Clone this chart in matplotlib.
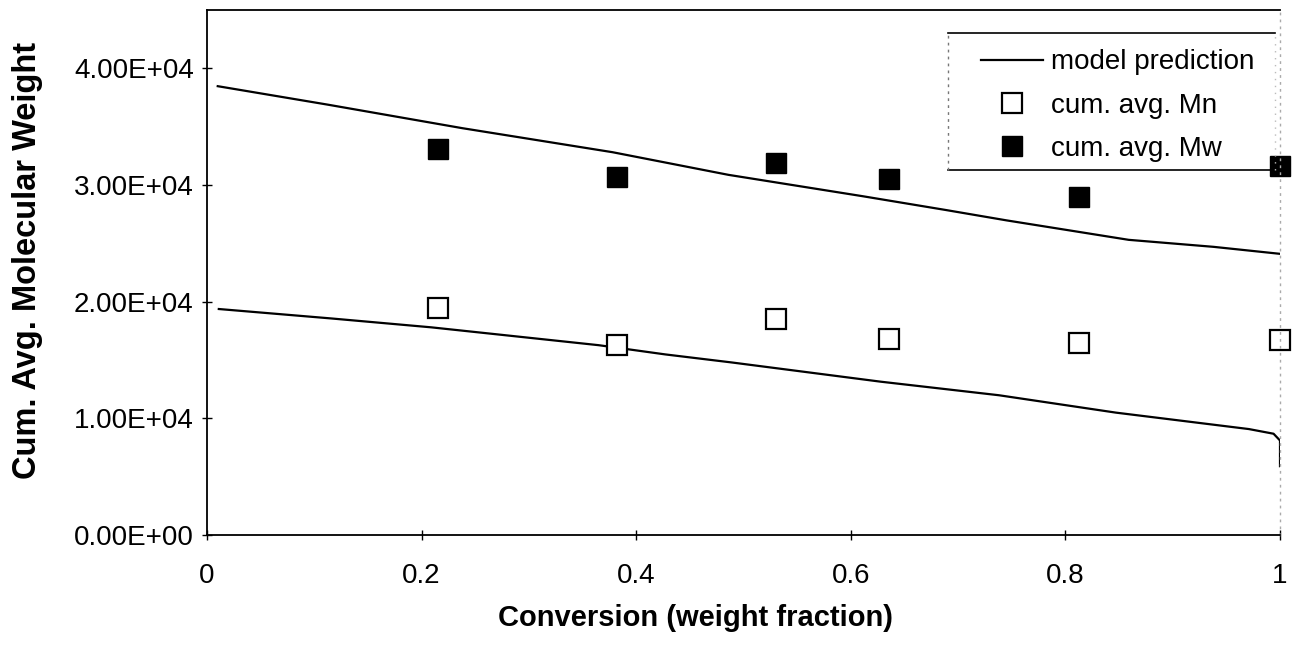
import matplotlib
matplotlib.use("Agg")
import matplotlib.pyplot as plt
from matplotlib.ticker import FuncFormatter, FixedLocator
from matplotlib.lines import Line2D

plt.rcParams['font.family'] = ['Liberation Sans', 'DejaVu Sans']

# ---- data ----
conv_samples = [0.215, 0.382, 0.530, 0.636, 0.813, 1.0]
mn_measured = [19500, 16300, 18500, 16800, 16500, 16700]
mw_measured = [33100, 30700, 31900, 30500, 29000, 31600]

model_mw_x = [0.010, 0.113, 0.238, 0.378, 0.486, 0.611, 0.689, 0.745, 0.859, 0.938, 1.0]
model_mw_y = [38470, 36880, 34870, 32810, 30870, 29040, 27850, 26970, 25300, 24700, 24100]

model_mn_x = [0.011, 0.116, 0.209, 0.365, 0.427, 0.489, 0.628, 0.738, 0.847, 0.971, 0.994, 1.0, 1.0]
model_mn_y = [19370, 18560, 17800, 16270, 15480, 14790, 13140, 11980, 10490, 9080, 8680, 8100, 5900]

x_ticks = [0, 0.2, 0.4, 0.6, 0.8, 1.0]
x_tick_labels = ['0', '0.2', '0.4', '0.6', '0.8', '1']
y_ticks = [0, 10000, 20000, 30000, 40000]

W, H = 1305, 651
fig = plt.figure(figsize=(W / 100, H / 100), dpi=100)
ax = fig.add_axes([207 / W, 1 - 535 / H, (1280 - 207) / W, (535 - 10) / H])

ax.plot(model_mw_x, model_mw_y, color='black', lw=1.6, label='model prediction')
ax.plot(model_mn_x, model_mn_y, color='black', lw=1.6)
ax.plot(conv_samples, mn_measured, ls='none', marker='s', ms=14, mfc='white',
        mec='black', mew=1.6, label='cum. avg. Mn', clip_on=False)
ax.plot(conv_samples, mw_measured, ls='none', marker='s', ms=14, mfc='black',
        mec='black', mew=1.0, label='cum. avg. Mw', clip_on=False)

ax.set_xlim(0, 1.0)
ax.set_ylim(0, 45000)
ax.xaxis.set_major_locator(FixedLocator(x_ticks))
ax.set_xticklabels(x_tick_labels)
ax.yaxis.set_major_locator(FixedLocator(y_ticks))
ax.yaxis.set_major_formatter(FuncFormatter(lambda v, p: f"{v:.2E}"))
ax.tick_params(axis='both', labelsize=20, color='black', direction='inout', length=7, width=1)
ax.tick_params(axis='x', pad=17)
ax.tick_params(axis='y', pad=6)

for s in ['left', 'bottom', 'top']:
    ax.spines[s].set_color('black')
    ax.spines[s].set_linewidth(1.3)
ax.spines['right'].set_color('#aaaaaa')
ax.spines['right'].set_linestyle((0, (1, 4)))
ax.spines['right'].set_linewidth(1.0)

fig.text(695 / W, 1 - 618 / H, 'Conversion (weight fraction)', fontsize=21,
         fontweight='bold', ha='center', va='center')
fig.text(28 / W, 1 - 260 / H, 'Cum. Avg. Molecular Weight', fontsize=23.5,
         fontweight='bold', ha='center', va='center', rotation=90)

# legend
leg = ax.legend(loc='upper left', bbox_to_anchor=(962 / W, 1 - 30 / H),
                bbox_transform=fig.transFigure, frameon=False, fontsize=20,
                handlelength=2.2, handletextpad=0.3, labelspacing=0.62,
                borderpad=0.2, markerscale=1.0)
# legend box border
lx0, lx1, ly0, ly1 = 948 / W, 1275 / W, 1 - 170 / H, 1 - 33 / H
fig.add_artist(Line2D([lx0, lx1], [ly1, ly1], transform=fig.transFigure, color='black', lw=1.2))
fig.add_artist(Line2D([lx0, lx1], [ly0, ly0], transform=fig.transFigure, color='black', lw=1.2))
fig.add_artist(Line2D([lx0, lx0], [ly0, ly1], transform=fig.transFigure, color='#777777', lw=1.0, ls=(0, (2, 3))))
fig.add_artist(Line2D([lx1, lx1], [ly0, ly1], transform=fig.transFigure, color='#bbbbbb', lw=1.0, ls=(0, (1, 4))))

fig.savefig('out.png', dpi=100)
